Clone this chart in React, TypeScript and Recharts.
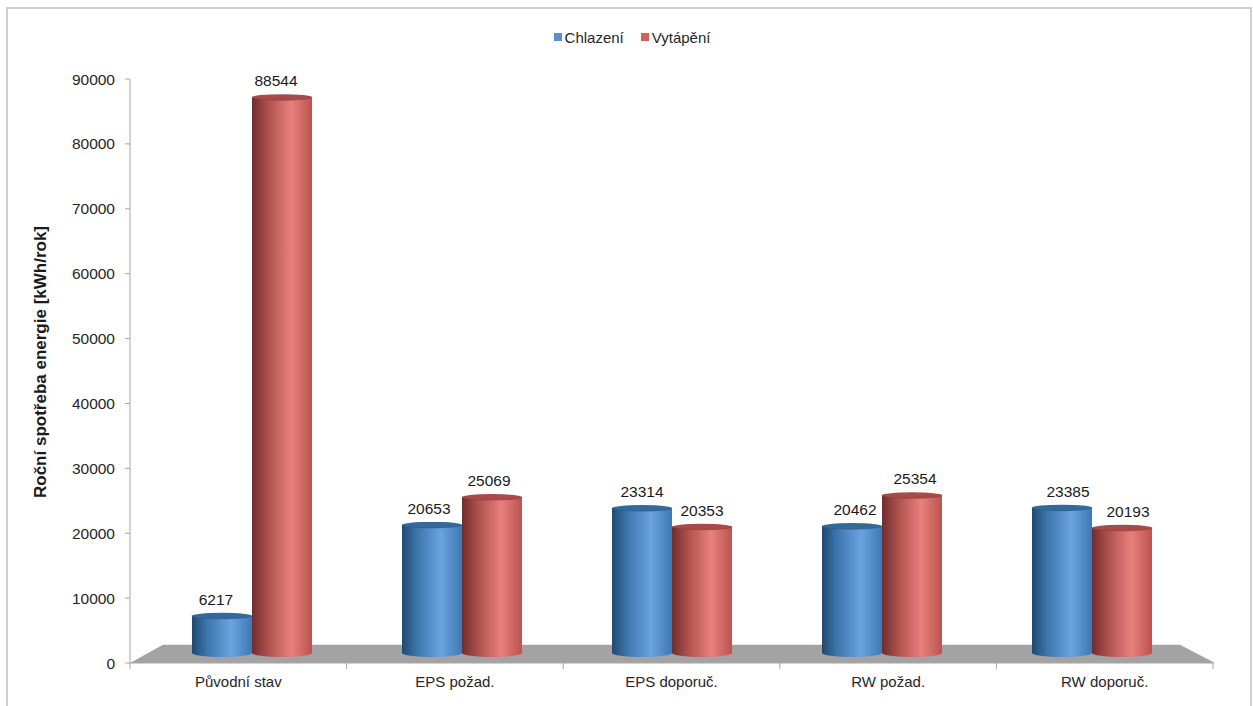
import React from 'react';
import { BarChart, Bar, XAxis, YAxis, Legend, LabelList, ReferenceArea, Label } from 'recharts';

const categories = ['Původní stav', 'EPS požad.', 'EPS doporuč.', 'RW požad.', 'RW doporuč.'];
const chlazeni = [6217, 20653, 23314, 20462, 23385];
const vytapeni = [88544, 25069, 20353, 25354, 20193];
const yTicks = [0, 10000, 20000, 30000, 40000, 50000, 60000, 70000, 80000, 90000];

const data = categories.map((name, i) => ({ name, Chlazení: chlazeni[i], Vytápění: vytapeni[i] }));

const FONT = '"Liberation Sans", Arial, sans-serif';
const BAND = 216.6;

const Cylinder = (props: any) => {
  const { x, y, width, height, grad, cap, rim } = props;
  const rx = width / 2;
  const ry = 3;
  const top = y - 1;
  const bottom = y + height - 3;
  const d = `M${x},${top} L${x},${bottom} A${rx},4 0 0 0 ${x + width},${bottom} L${x + width},${top} Z`;
  return (
    <g>
      <path d={d} fill={`url(#${grad})`} />
      <ellipse cx={x + rx} cy={top} rx={rx} ry={ry} fill={cap} />
      <path d={`M${x},${top} A${rx},${ry} 0 0 0 ${x + width},${top}`} fill="none" stroke={rim} strokeWidth={0.6} />
    </g>
  );
};

const CategoryTick = (props: any) => {
  const { x, y, payload, index } = props;
  return (
    <g>
      <line x1={x - BAND / 2} x2={x - BAND / 2} y1={y - 8} y2={y - 2} stroke="#a6a6a6" />
      {index === categories.length - 1 ? (
        <line x1={x + BAND / 2} x2={x + BAND / 2} y1={y - 8} y2={y - 2} stroke="#a6a6a6" />
      ) : null}
      <text x={x} y={y + 16} textAnchor="middle" fontFamily={FONT} fontSize={15} fill="#262626">
        {payload.value}
      </text>
    </g>
  );
};

const Floor = (props: any) => {
  const { x, y, width, height } = props;
  const inset = 33;
  return (
    <polygon
      points={`${x},${y + height} ${x + inset},${y} ${x + width - inset},${y} ${x + width + 2},${y + height}`}
      fill="#a3a3a3"
    />
  );
};

const renderLabel = (props: any) => {
  const { x, y, width, value, index } = props;
  return (
    <text
      x={x + width / 2 + (index - 2) * 3}
      y={y - 12}
      textAnchor="middle"
      fontFamily={FONT}
      fontSize={15.5}
      fill="#1a1a1a"
    >
      {value}
    </text>
  );
};

const LegendContent = (props: any) => (
  <div style={{ display: 'flex', justifyContent: 'center', paddingLeft: 28, height: 16, alignItems: 'center' }}>
    {(props.payload || [])
      .filter((p: any) => p.type !== 'none')
      .map((p: any) => (
        <div key={p.value} style={{ display: 'flex', alignItems: 'center', marginRight: 17 }}>
          <span style={{ display: 'inline-block', width: 8, height: 8, background: p.color, marginRight: 3 }} />
          <span style={{ fontFamily: FONT, fontSize: 15, color: '#262626' }}>{p.value}</span>
        </div>
      ))}
  </div>
);

export default function App() {
  return (
    <div style={{ position: 'absolute', left: 0, top: 0, width: 1253, height: 706, overflow: 'hidden', background: '#fff' }}>
      <div
        style={{
          position: 'absolute',
          left: 6,
          top: 7,
          width: 1242,
          height: 699,
          borderTop: '2px solid #cfcfcf',
          borderLeft: '2px solid #cfcfcf',
          borderRight: '2px solid #cfcfcf',
        }}
      />
      <div style={{ position: 'absolute', left: 0, top: 0 }}>
        <BarChart
          width={1253}
          height={706}
          data={data}
          barSize={60}
          barGap={0}
          margin={{ top: 63, right: 40, bottom: 0, left: 30 }}
        >
          <defs>
            <linearGradient id="blueCyl" x1="0" y1="0" x2="1" y2="0">
              <stop offset="0%" stopColor="#1f4a70" />
              <stop offset="25%" stopColor="#3d75ac" />
              <stop offset="65%" stopColor="#6aa3e0" />
              <stop offset="100%" stopColor="#3f78b4" />
            </linearGradient>
            <linearGradient id="redCyl" x1="0" y1="0" x2="1" y2="0">
              <stop offset="0%" stopColor="#6e2e2d" />
              <stop offset="25%" stopColor="#ab4e4b" />
              <stop offset="65%" stopColor="#e8807c" />
              <stop offset="100%" stopColor="#bb5450" />
            </linearGradient>
          </defs>
          <XAxis
            xAxisId="main"
            dataKey="name"
            height={43}
            axisLine={{ stroke: '#a6a6a6' }}
            tickLine={false}
            interval={0}
            tick={<CategoryTick />}
          />
          <XAxis xAxisId="bars" dataKey="name" hide height={0} padding={{ left: 17, right: 16 }} />
          <YAxis
            yAxisId="main"
            domain={[0, 90000]}
            ticks={yTicks}
            width={100}
            interval={0}
            tickSize={5}
            tickMargin={10}
            axisLine={{ stroke: '#a6a6a6' }}
            tickLine={{ stroke: '#a6a6a6' }}
            tick={{ fontFamily: FONT, fontSize: 15.5, fill: '#262626' }}
          >
            <Label
              value="Roční spotřeba energie [kWh/rok]"
              angle={-90}
              position="insideLeft"
              offset={0}
              dx={10}
              dy={-9}
              style={{ fontFamily: FONT, fontSize: 17, fontWeight: 700, fill: '#1a1a1a', textAnchor: 'middle' }}
            />
          </YAxis>
          <YAxis yAxisId="bars" hide width={0} domain={[0, 90000]} padding={{ top: 10, bottom: 7 }} />
          <ReferenceArea xAxisId="main" yAxisId="main" y1={0} y2={2800} shape={<Floor />} fillOpacity={1} />
          <Legend verticalAlign="top" align="center" wrapperStyle={{ top: 29, left: 0, width: 1253 }} content={<LegendContent />} />
          <Bar
            xAxisId="main"
            yAxisId="main"
            dataKey="Chlazení"
            legendType="none"
            isAnimationActive={false}
            shape={() => null}
          />
          <Bar
            xAxisId="bars"
            yAxisId="bars"
            dataKey="Chlazení"
            fill="#5b8fd0"
            isAnimationActive={false}
            shape={<Cylinder grad="blueCyl" cap="#34699c" rim="#2b5a88" />}
          >
            <LabelList dataKey="Chlazení" content={renderLabel} />
          </Bar>
          <Bar
            xAxisId="bars"
            yAxisId="bars"
            dataKey="Vytápění"
            fill="#d0605c"
            isAnimationActive={false}
            shape={<Cylinder grad="redCyl" cap="#a84a48" rim="#8e3d3b" />}
          >
            <LabelList dataKey="Vytápění" content={renderLabel} />
          </Bar>
        </BarChart>
      </div>
    </div>
  );
}
